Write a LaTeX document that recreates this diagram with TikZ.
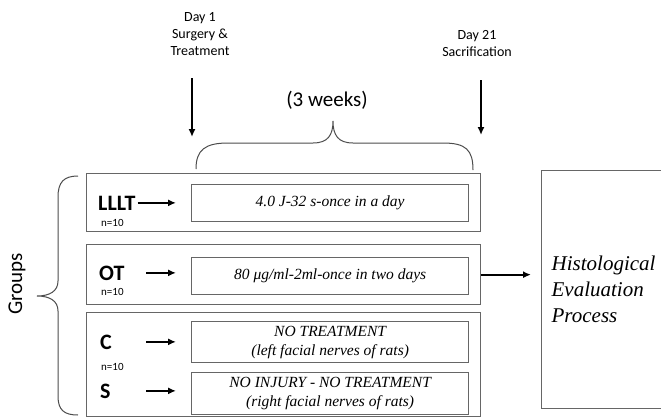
\documentclass[tikz,border=0pt]{standalone}
\usepackage{fontspec}
\setmainfont{Liberation Serif}
\newfontfamily\calib{Carlito}
\usetikzlibrary{arrows.meta,positioning}

\begin{document}
\begin{tikzpicture}[x=1pt,y=-1pt,
  frame/.style={draw=black!60,line width=1.3pt,anchor=north west,inner sep=0pt,minimum width=394pt},
  dose/.style={draw=black!60,line width=1.3pt,anchor=north west,inner sep=0pt,minimum width=277pt,align=center,font=\fontsize{15.5}{19}\selectfont\itshape},
  grp/.style={anchor=base west,inner sep=0pt,font=\calib\bfseries\fontsize{22}{26}\selectfont},
  num/.style={anchor=base west,inner sep=0pt,font=\calib\fontsize{11}{13}\selectfont},
  day/.style={align=center,inner sep=0pt,font=\calib\fontsize{14}{17}\selectfont},
  arr/.style={-{Latex[length=8pt,width=7pt]},line width=2pt},
  curly/.style={draw=black!70,line width=1pt}
]
\useasboundingbox (0,0) rectangle (661,416);

% time line
\node[day] (day1) at (200,34) {Day 1\\Surgery \&\\Treatment};
\node[day] (day21) at (477,44) {Day 21\\Sacrification};
\coordinate (d1top) at (192,78);
\coordinate (d1tip) at (192,137);
\coordinate (d21top) at (481,80);
\coordinate (d21tip) at (481,135);
\draw[arr] (d1top) -- (d1tip);
\draw[arr] (d21top) -- (d21tip);
\node[font=\calib\fontsize{21}{25}\selectfont] (weeks) at (327,100) {(3 weeks)};
\draw[curly] (196,169) .. controls (196,150) and (205,143) .. (228,143) -- (313,143)
  .. controls (328,143) and (333,135) .. (333,121)
  .. controls (333,135) and (338,143) .. (353,143) -- (443,143)
  .. controls (466,143) and (473,150) .. (473,170);

% groups
\node[font=\calib\fontsize{21}{25}\selectfont,rotate=90] (groups) at (17,284) {Groups};
\draw[curly] (78,176) .. controls (64,176) and (58,182) .. (58,197) -- (58,281)
  .. controls (58,291) and (50,296) .. (37,296)
  .. controls (50,296) and (58,301) .. (58,311) -- (58,396)
  .. controls (58,410) and (64,415) .. (78,415);

\node[frame,minimum height=58pt] (row1) at (86,173) {};
\node[frame,minimum height=60pt] (row2) at (86,244) {};
\node[frame,minimum height=104pt] (row3) at (86,312) {};

\node[dose,minimum height=37pt] (lllt dose) at (191,184) {4.0 J-32 s-once in a day};
\node[dose,minimum height=37pt] (ot dose) at (191,257) {80 μg/ml-2ml-once in two days};
\node[dose,minimum height=41pt] (c dose) at (191,321) {NO TREATMENT\\(left facial nerves of rats)};
\node[dose,minimum height=42pt] (s dose) at (191,372) {NO INJURY - NO TREATMENT\\(right facial nerves of rats)};

\node[grp] (lllt) at (98,210) {LLLT};
\node[num] (lllt n) at (101,226) {n=10};
\node[grp] (ot) at (99,280) {OT};
\node[num] (ot n) at (101,295) {n=10};
\node[grp] (c) at (100,349) {C};
\node[num] (c n) at (101,370) {n=10};
\node[grp] (s) at (100,398) {S};

\coordinate (astart) at (146,0);
\draw[arr,shorten <=2pt,shorten >=15pt] (lllt.east) -- (lllt.east -| lllt dose.west);
\draw[arr,shorten >=15pt] (ot.east -| astart) -- (ot.east -| ot dose.west);
\draw[arr,shorten >=15pt] (c.east -| astart) -- (c.east -| c dose.west);
\draw[arr,shorten >=15pt] (s.east -| astart) -- (s.east -| s dose.west);

% evaluation
\node[draw=black!60,line width=1.3pt,anchor=north west,minimum width=150pt,minimum height=238pt,
  text width=130pt,inner xsep=8pt,align=left,font=\fontsize{21}{26}\selectfont\itshape] (hist) at (541,170)
  {Histological\\Evaluation\\Process};
\draw[arr,shorten >=10pt] (row2.east) -- (row2.east -| hist.west);
\end{tikzpicture}
\end{document}
